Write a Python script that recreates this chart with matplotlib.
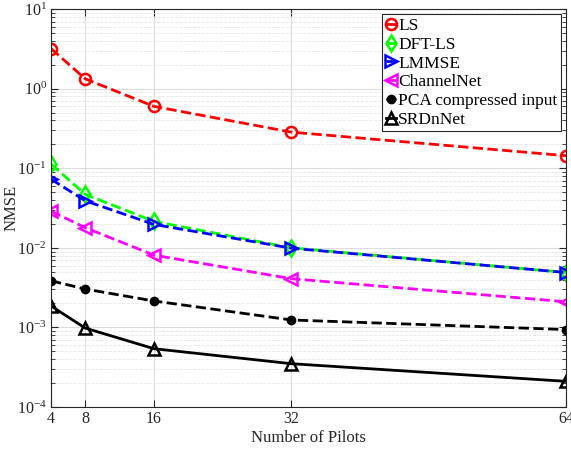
import matplotlib.pyplot as plt
from matplotlib.ticker import LogLocator, NullFormatter

plt.rcParams['font.family'] = ['Liberation Serif', 'DejaVu Serif']
plt.rcParams['mathtext.fontset'] = 'stix'

pilots = [4, 8, 16, 32, 64]
nmse_ls = [3.2, 1.33, 0.60, 0.285, 0.144]
nmse_dft_ls = [0.113, 0.047, 0.0215, 0.0100, 0.0049]
nmse_lmmse = [0.073, 0.039, 0.0197, 0.0099, 0.0049]
nmse_channelnet = [0.029, 0.0179, 0.0081, 0.0041, 0.0021]
nmse_pca = [0.00386, 0.00303, 0.00215, 0.00124, 0.00094]
nmse_srdnnet = [0.00186, 0.00098, 0.00054, 0.00035, 0.00021]

fig = plt.figure(figsize=(5.71, 4.5), dpi=100)
ax = fig.add_axes([0.0893, 0.0956, 0.902, 0.884])

lw = 2
ax.plot(pilots, nmse_ls, '--', color='red', lw=lw, marker='o', ms=8,
        mfc='none', mew=1.8, label='LS')
ax.plot(pilots, nmse_dft_ls, '--', color='#00ff00', lw=lw, marker='d', ms=8,
        mfc='none', mew=1.8, label='DFT-LS')
ax.plot(pilots, nmse_lmmse, '--', color='blue', lw=lw, marker='>', ms=8,
        mfc='none', mew=1.8, label='LMMSE')
ax.plot(pilots, nmse_channelnet, '--', color='magenta', lw=lw, marker='<', ms=8,
        mfc='none', mew=1.8, label='ChannelNet')
ax.plot(pilots, nmse_pca, '--', color='black', lw=lw, marker='o', ms=6,
        label='PCA compressed input')
ax.plot(pilots, nmse_srdnnet, '-', color='black', lw=lw, marker='^', ms=8,
        mfc='none', mew=1.8, label='SRDnNet')

ax.set_yscale('log')
ax.set_xlim(4, 64)
ax.set_ylim(1e-4, 1e1)
ax.set_xticks(pilots)
ax.set_xticklabels([str(p) for p in pilots])
ax.yaxis.set_major_locator(LogLocator(base=10, numticks=10))
ax.yaxis.set_minor_locator(LogLocator(base=10, subs=range(2, 10), numticks=50))
ax.yaxis.set_minor_formatter(NullFormatter())

ax.grid(True, which='major', color='#dcdcdc', lw=0.8)
ax.grid(True, which='minor', axis='y', color='#e6e6e6', lw=0.6, ls='--')
ax.set_axisbelow(True)

ax.tick_params(which='both', direction='in', top=True, right=True,
               labelsize=11.5, colors='#262626')
ax.tick_params(which='major', length=5, pad=3)
ax.tick_params(which='minor', length=3)
for s in ax.spines.values():
    s.set_color('#262626')
    s.set_linewidth(0.8)

ax.set_xlabel('Number of Pilots', fontsize=12, color='#262626', labelpad=2)
ax.set_ylabel('NMSE', fontsize=12, color='#262626')
ax.yaxis.set_label_coords(-0.062, 0.5)

leg = ax.legend(loc='upper right', fontsize=12.5, handlelength=0.6,
                handletextpad=0.1, borderpad=0.2, labelspacing=0.15,
                fancybox=False, framealpha=1, borderaxespad=0.3)
leg.get_frame().set_edgecolor('#262626')
leg.get_frame().set_linewidth(0.8)

fig.savefig('out.png', dpi=100)
